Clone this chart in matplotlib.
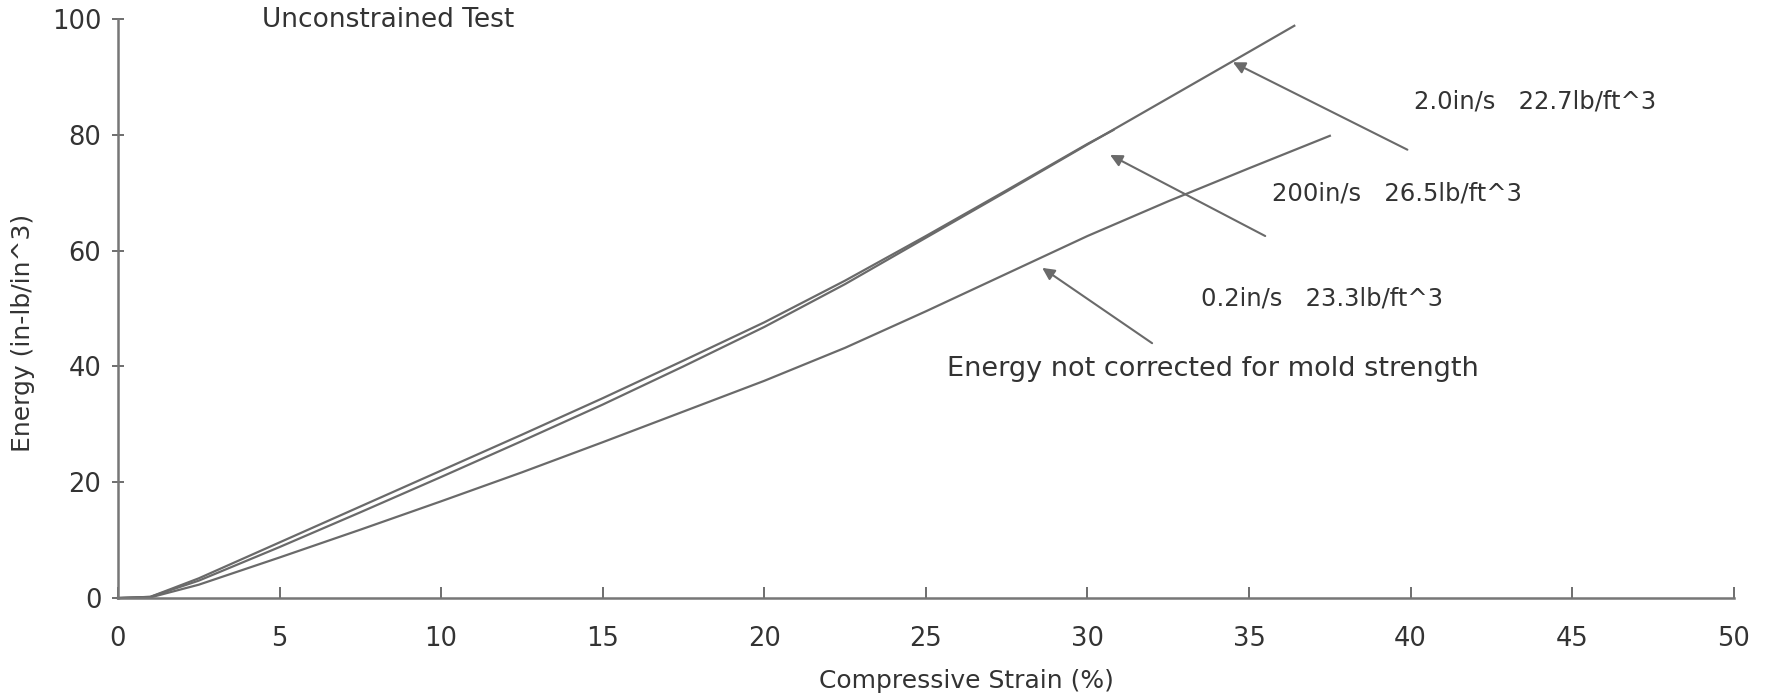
import matplotlib
matplotlib.use("Agg")
import matplotlib.pyplot as plt

# strain (%) vs energy (in-lb/in^3)
strain_20 = [0, 1, 2.5, 5, 7.5, 10, 12.5, 15, 17.5, 20, 22.5, 25, 27.5, 30, 32.5, 35, 36.4]
energy_20 = [0, 0.2, 3.0, 8.8, 14.8, 20.9, 27.1, 33.4, 40.0, 46.8, 54.2, 62.2, 70.2, 78.3, 86.3, 94.3, 98.8]

strain_200 = [0, 1, 2.5, 5, 7.5, 10, 12.5, 15, 17.5, 20, 22.5, 25, 27.5, 30, 30.8]
energy_200 = [0, 0.2, 3.4, 9.6, 15.8, 22.0, 28.2, 34.5, 41.0, 47.6, 54.8, 62.5, 70.4, 78.4, 80.8]

strain_02 = [0, 1, 2.5, 5, 7.5, 10, 12.5, 15, 17.5, 20, 22.5, 25, 27.5, 30, 32.5, 35, 37.5]
energy_02 = [0, 0.1, 2.3, 7.0, 11.8, 16.7, 21.7, 26.9, 32.2, 37.5, 43.2, 49.5, 56.0, 62.5, 68.5, 74.2, 79.8]

x_ticks = [0, 5, 10, 15, 20, 25, 30, 35, 40, 45, 50]
y_ticks = [0, 20, 40, 60, 80, 100]

labels = ["2.0in/s   22.7lb/ft^3", "200in/s   26.5lb/ft^3", "0.2in/s   23.3lb/ft^3"]
label_xy = [(40.1, 85.7), (35.7, 69.9), (33.5, 51.7)]
arrow_tip = [(34.5, 92.5), (30.7, 76.5), (28.6, 57.0)]
arrow_tail = [(39.9, 77.4), (35.5, 62.5), (32.0, 44.0)]

plt.rcParams["font.family"] = ["DejaVu Sans"]
ink = "#555555"
txt_c = "#333333"

fig = plt.figure(figsize=(17.71, 6.97), dpi=100)
ax = fig.add_axes([0.0666, 0.142, 0.9124, 0.831])

for xs, ys in [(strain_20, energy_20), (strain_200, energy_200), (strain_02, energy_02)]:
    ax.plot(xs, ys, color="#6a6a6a", lw=1.6, clip_on=False)

for tip, tail in zip(arrow_tip, arrow_tail):
    ax.annotate("", xy=tip, xytext=tail,
                arrowprops=dict(arrowstyle="-|>", color="#6a6a6a", lw=1.5,
                                mutation_scale=18, shrinkA=0, shrinkB=0))

for txt, (lx, ly) in zip(labels, label_xy):
    ax.text(lx, ly, txt, fontsize=17.5, color=txt_c, ha="left", va="center")

ax.text(25.65, 39.6, "Energy not corrected for mold strength", fontsize=19.5,
        color=txt_c, ha="left", va="center")
ax.text(4.46, 99.8, "Unconstrained Test", fontsize=19, color=txt_c,
        ha="left", va="center")

ax.set_xlim(0, 50)
ax.set_ylim(0, 100)
ax.set_xticks(x_ticks)
ax.set_yticks(y_ticks)
ax.tick_params(axis="x", direction="in", length=8, width=1.2, colors=ink,
               labelsize=18.5, pad=20, labelcolor=txt_c)
ax.tick_params(axis="y", direction="inout", length=8, width=1.2, colors=ink,
               labelsize=18.5, pad=8, labelcolor=txt_c)

for s in ["top", "right"]:
    ax.spines[s].set_visible(False)
for s in ["left", "bottom"]:
    ax.spines[s].set_color("#777777")
    ax.spines[s].set_linewidth(1.8)

ax.set_xlabel("Compressive Strain (%)", fontsize=18, color=txt_c, va="center")
ax.set_ylabel("Energy (in-lb/in^3)", fontsize=18, color=txt_c, va="center")
ax.xaxis.set_label_coords(0.525, -0.143)
ax.yaxis.set_label_coords(-0.059, 0.458)

fig.savefig("out.png", dpi=100)
